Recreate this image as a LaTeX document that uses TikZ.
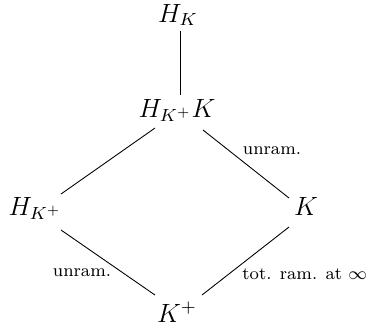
\documentclass[tikz,border=0pt,12pt]{standalone}
\begin{document}
\begin{tikzpicture}[x=0.4545pt,y=-0.4545pt,
  obj/.style={inner sep=0pt,anchor=base,font=\normalsize},
  lab/.style={font=\scriptsize,inner sep=0pt,anchor=base},
  edge/.style={draw,line width=0.4pt}]
\useasboundingbox (0,0) rectangle (369,327);
\node[obj] (HK) at (178,22) {$H_K$};
\node[obj] (HKK) at (177,117) {$H_{K^+}K$};
\node[obj] (HKp) at (35,215) {$H_{K^+}$};
\node[obj] (K) at (306,215) {$K$};
\node[obj] (Kp) at (177,322) {$K^+$};
\coordinate (a1) at (180,31); \coordinate (a2) at (180,95);
\coordinate (b1) at (155,128); \coordinate (b2) at (61,194);
\coordinate (c1) at (203,130); \coordinate (c2) at (289,198);
\coordinate (d1) at (61,230); \coordinate (d2) at (155,295);
\coordinate (e1) at (289,227); \coordinate (e2) at (202,295);
\path[edge] (a1) -- (a2);
\path[edge] (b1) -- (b2);
\path[edge] (c1) -- (c2);
\path[edge] (d1) -- (d2);
\path[edge] (e1) -- (e2);
\node[lab] (l1) at (272,154) {unram.};
\node[lab] (l2) at (82,276) {unram.};
\node[lab,anchor=base west] (l3) at (242,279) {tot. ram. at $\infty$};
\end{tikzpicture}
\end{document}
